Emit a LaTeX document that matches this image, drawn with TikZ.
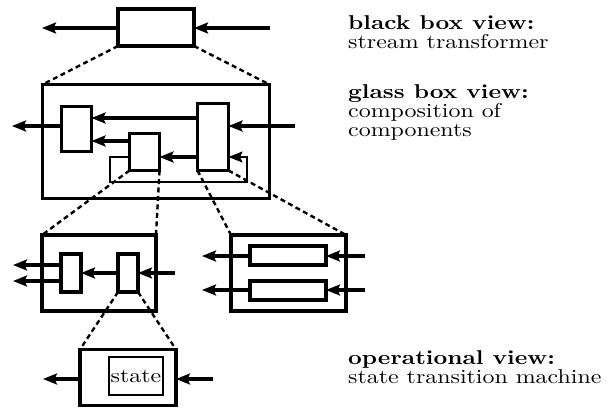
\documentclass[tikz,border=0pt]{standalone}
\usetikzlibrary{arrows.meta}
\newcommand{\lbl}[1]{\scalebox{2.39}[2.0]{#1}}
\begin{document}
\begin{tikzpicture}[x=1pt,y=-1pt,
  blk/.style={draw, line width=3.5pt, inner sep=0pt, outer sep=0pt},
  inner/.style={draw, line width=2.6pt, inner sep=0pt, outer sep=0pt},
  tip/.style={-{Stealth[length=14pt,width=11pt,inset=2.5pt]}},
  arr/.style={tip, line width=3.5pt},
  thinarr/.style={tip, line width=1.6pt},
  zoomline/.style={line width=2.4pt, dash pattern=on 5pt off 3.5pt},
  txt/.style={anchor=base west, inner sep=0pt}]
\useasboundingbox (0,0) rectangle (608,408);

% black box
\node[blk, minimum width=76pt, minimum height=37pt] (B) at (156,27.5) {};
\coordinate (bOut) at (42,28);
\coordinate (bIn) at (270,28);
\draw[arr] (B.west |- bOut) -- (bOut);
\draw[arr] (bIn) -- (B.east |- bIn);

% glass box with three components
\node[blk, minimum width=227pt, minimum height=114pt] (G) at (156,141.5) {};
\node[blk, minimum width=30pt, minimum height=45pt] (G1) at (76.5,129) {};
\node[blk, minimum width=30pt, minimum height=37pt] (G2) at (144.5,152) {};
\node[blk, minimum width=31pt, minimum height=67pt] (G3) at (213,137) {};
\coordinate (gOut) at (12,126);
\coordinate (gIn) at (295,126);
\coordinate (gA) at (0,118);
\coordinate (gB) at (0,141);
\coordinate (gC) at (0,157);
\coordinate (lpA) at (110,182);
\coordinate (lpB) at (247,157);
\draw[arr] (G1.west |- gOut) -- (gOut);
\draw[arr] (gIn) -- (G3.east |- gIn);
\draw[arr] (G3.west |- gA) -- (G1.east |- gA);
\draw[arr] (G2.west |- gB) -- (G1.east |- gB);
\draw[arr] (G3.west |- gC) -- (G2.east |- gC);
\draw[thinarr] (G2.west |- gC) -| (lpA) -| (lpB) -- (G3.east |- gC);

\draw[zoomline] (B.south west) -- (G.north west);
\draw[zoomline] (B.south east) -- (G.north east);

% refinement of the middle component
\node[blk, minimum width=114pt, minimum height=76pt] (L) at (99,273) {};
\node[blk, minimum width=20pt, minimum height=38pt] (L1) at (71,273) {};
\node[blk, minimum width=20pt, minimum height=38pt] (L2) at (128,273) {};
\coordinate (lOutA) at (13,265);
\coordinate (lOutB) at (13,281);
\coordinate (lIn) at (175,273);
\draw[arr] (L1.west |- lOutA) -- (lOutA);
\draw[arr] (L1.west |- lOutB) -- (lOutB);
\draw[arr] (L2.west) -- (L1.east);
\draw[arr] (lIn) -- (L2.east);

\draw[zoomline] (G2.south west) -- (L.north west);
\draw[zoomline] (G2.south east) -- (L.north east);

% refinement of the right component
\node[blk, minimum width=115pt, minimum height=76pt] (R) at (288.5,273) {};
\node[blk, minimum width=76pt, minimum height=19pt] (R1) at (288,255.5) {};
\node[blk, minimum width=76pt, minimum height=19pt] (R2) at (288,290.5) {};
\coordinate (rOutA) at (202,256);
\coordinate (rInA) at (365,256);
\coordinate (rOutB) at (202,290);
\coordinate (rInB) at (365,290);
\draw[arr] (R1.west |- rOutA) -- (rOutA);
\draw[arr] (rInA) -- (R1.east |- rInA);
\draw[arr] (R2.west |- rOutB) -- (rOutB);
\draw[arr] (rInB) -- (R2.east |- rInB);

\draw[zoomline] (G3.south west) -- (R.north west);
\draw[zoomline] (G3.south east) -- (R.north east);

% operational view
\node[blk, minimum width=96pt, minimum height=56pt] (S) at (128,377.5) {};
\node[inner, minimum width=54pt, minimum height=38pt] (St) at (136,376) {};
\node[txt, anchor=base] (stTxt) at (136,382) {\lbl{state}};
\coordinate (sOut) at (43,379);
\coordinate (sIn) at (213,379);
\draw[arr] (S.west |- sOut) -- (sOut);
\draw[arr] (sIn) -- (S.east |- sIn);

\draw[zoomline] (L2.south west) -- (S.north west);
\draw[zoomline] (L2.south east) -- (S.north east);

% captions
\node[txt] (t1) at (348,29) {\lbl{\textbf{black box view:}}};
\node[txt] (t2) at (348,48) {\lbl{stream transformer}};
\node[txt] (t3) at (348,98) {\lbl{\textbf{glass box view:}}};
\node[txt] (t4) at (348,117) {\lbl{composition of}};
\node[txt] (t5) at (348,136) {\lbl{components}};
\node[txt] (t6) at (348,364) {\lbl{\textbf{operational view:}}};
\node[txt] (t7) at (348,383) {\lbl{state transition machine}};
\end{tikzpicture}
\end{document}
